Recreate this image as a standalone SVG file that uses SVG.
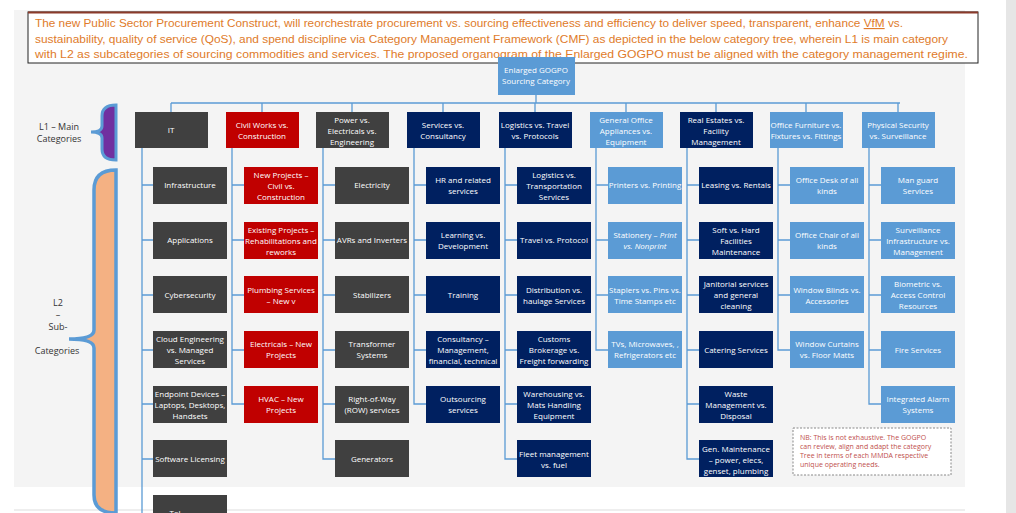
<svg xmlns="http://www.w3.org/2000/svg" width="1016" height="513" viewBox="0 0 1016 513">
<style>
text{font-family:"Open Sans","Noto Sans",sans-serif;font-size:8px;text-anchor:middle;fill:#fff}
.g rect{fill:#404040}.r rect{fill:#c00000}.n rect{fill:#002060}.l rect{fill:#5b9bd5}
.c{fill:none;stroke:#5b9bd5;stroke-width:1.3}
.hd{font-family:"Liberation Sans",sans-serif;font-size:11.5px;fill:#e07b2a;text-anchor:start}
.lb{fill:#333;font-size:9px}
</style>
<rect width="1016" height="513" fill="#fff"/>
<rect x="14" y="10" width="951" height="477" fill="#f4f4f4"/>
<rect x="1006" y="0" width="10" height="513" fill="#e6e6e6"/>
<line x1="14" y1="510" x2="965" y2="510" stroke="#ddd"/>
<rect x="28" y="12" width="950" height="51" fill="#fff" stroke="#222" stroke-width="1"/>
<line x1="28" y1="12.5" x2="978" y2="12.5" stroke="#8b3a2a" stroke-width="2"/>
<text class="hd" x="35" y="27" textLength="868" lengthAdjust="spacingAndGlyphs">The new Public Sector Procurement Construct, will reorchestrate procurement vs. sourcing effectiveness and efficiency to deliver speed, transparent, enhance <tspan text-decoration="underline">VfM</tspan> vs.</text>
<text class="hd" x="35" y="43" textLength="913" lengthAdjust="spacingAndGlyphs">sustainability, quality of service (QoS), and spend discipline via Category Management Framework (CMF) as depicted in the below  category tree, wherein L1 is main  category</text>
<text class="hd" x="35" y="58" textLength="933" lengthAdjust="spacingAndGlyphs">with L2 as subcategories of sourcing commodities and services. The proposed organogram of the Enlarged GOGPO must be aligned with the category management regime.</text>

<g id="braces">
<path d="M116,105 Q102,105 102,116 L102,126 Q102,132 91,132 Q102,132 102,138 L102,149 Q102,160 116,160 Z" fill="#7030a0" stroke="#5b9bd5" stroke-width="3"/>
<path d="M116,170 Q94,170 94,190 L94,330 Q94,339 69,339 Q94,339 94,348 L94,495 Q94,513 116,513 Z" fill="#f4b183" stroke="#5b9bd5" stroke-width="3.5"/>
<text class="lb" x="59" y="130">L1 – Main</text><text class="lb" x="59" y="142">Categories</text>
<text class="lb" x="58" y="306">L2</text><text class="lb" x="58" y="318">–</text><text class="lb" x="58" y="330">Sub-</text><text class="lb" x="57" y="354">Categories</text>
</g>

<g id="connectors" class="c">
<path d="M536,95 V103 M171,103 H900 M171,103 V112 M262,103 V112 M352,103 V112 M443,103 V112 M535,103 V112 M626,103 V112 M716,103 V112 M806,103 V112 M898,103 V112"/>
<path d="M142,148 V513 M142,185 H153 M142,240 H153 M142,295 H153 M142,350 H153 M142,404 H153 M142,459 H153"/>
<path d="M232,148 V404 H244 M232,185 H244 M232,240 H244 M232,295 H244 M232,350 H244"/>
<path d="M323,148 V459 H335 M323,185 H335 M323,240 H335 M323,295 H335 M323,350 H335 M323,404 H335"/>
<path d="M414,148 V404 H426 M414,185 H426 M414,240 H426 M414,295 H426 M414,350 H426"/>
<path d="M505,148 V459 H517 M505,185 H517 M505,240 H517 M505,295 H517 M505,350 H517 M505,404 H517"/>
<path d="M596,148 V350 H608 M596,185 H608 M596,240 H608 M596,295 H608"/>
<path d="M687,148 V459 H699 M687,185 H699 M687,240 H699 M687,295 H699 M687,350 H699 M687,404 H699"/>
<path d="M778,148 V350 H790 M778,185 H790 M778,240 H790 M778,295 H790"/>
<path d="M869,148 V404 H881 M869,185 H881 M869,240 H881 M869,295 H881 M869,350 H881"/>
</g>

<g id="root" class="l"><rect x="498" y="57" width="77" height="38"/><text x="536" y="73">Enlarged GOGPO</text><text x="536" y="84">Sourcing Category</text></g>

<g id="l1-it" class="g"><rect x="135" y="112" width="73" height="36"/><text x="171" y="133">IT</text></g>
<g id="l1-civil" class="r"><rect x="226" y="112" width="73" height="36"/><text x="262" y="128">Civil Works vs.</text><text x="262" y="139">Construction</text></g>
<g id="l1-power" class="g"><rect x="316" y="112" width="73" height="36"/><text x="352" y="123">Power vs.</text><text x="352" y="134">Electricals vs.</text><text x="352" y="145">Engineering</text></g>
<g id="l1-services" class="n"><rect x="407" y="112" width="73" height="36"/><text x="443" y="128">Services vs.</text><text x="443" y="139">Consultancy</text></g>
<g id="l1-logistics" class="n"><rect x="499" y="112" width="73" height="36"/><text x="535" y="128">Logistics vs. Travel</text><text x="535" y="139">vs. Protocols</text></g>
<g id="l1-office" class="l"><rect x="590" y="112" width="73" height="36"/><text x="626" y="123">General Office</text><text x="626" y="134">Appliances vs.</text><text x="626" y="145">Equipment</text></g>
<g id="l1-realestate" class="n"><rect x="680" y="112" width="73" height="36"/><text x="716" y="123">Real Estates vs.</text><text x="716" y="134">Facility</text><text x="716" y="145">Management</text></g>
<g id="l1-furniture" class="l"><rect x="770" y="112" width="73" height="36"/><text x="806" y="128">Office Furniture vs.</text><text x="806" y="139">Fixtures vs. Fittings</text></g>
<g id="l1-security" class="l"><rect x="862" y="112" width="73" height="36"/><text x="898" y="128">Physical Security</text><text x="898" y="139">vs. Surveillance</text></g>

<!-- IT -->
<g id="it1" class="g"><rect x="153" y="167" width="74" height="37"/><text x="190" y="188">Infrastructure</text></g>
<g id="it2" class="g"><rect x="153" y="222" width="74" height="37"/><text x="190" y="243">Applications</text></g>
<g id="it3" class="g"><rect x="153" y="276" width="74" height="37"/><text x="190" y="298">Cybersecurity</text></g>
<g id="it4" class="g"><rect x="153" y="331" width="74" height="37"/><text x="190" y="342">Cloud Engineering</text><text x="190" y="353">vs. Managed</text><text x="190" y="364">Services</text></g>
<g id="it5" class="g"><rect x="153" y="386" width="74" height="37"/><text x="190" y="397">Endpoint Devices –</text><text x="190" y="408">Laptops, Desktops,</text><text x="190" y="419">Handsets</text></g>
<g id="it6" class="g"><rect x="153" y="440" width="74" height="37"/><text x="190" y="462">Software Licensing</text></g>
<g id="it7" class="g"><rect x="153" y="495" width="74" height="37"/><text x="175" y="516">Tel</text></g>
<!-- Civil -->
<g id="cv1" class="r"><rect x="244" y="167" width="74" height="37"/><text x="281" y="178">New Projects –</text><text x="281" y="189">Civil vs.</text><text x="281" y="200">Construction</text></g>
<g id="cv2" class="r"><rect x="244" y="222" width="74" height="37"/><text x="281" y="233">Existing Projects –</text><text x="281" y="244">Rehabilitations and</text><text x="281" y="255">reworks</text></g>
<g id="cv3" class="r"><rect x="244" y="276" width="74" height="37"/><text x="281" y="293">Plumbing Services</text><text x="281" y="304">– New v</text></g>
<g id="cv4" class="r"><rect x="244" y="331" width="74" height="37"/><text x="281" y="347">Electricals – New</text><text x="281" y="358">Projects</text></g>
<g id="cv5" class="r"><rect x="244" y="386" width="74" height="37"/><text x="281" y="402">HVAC – New</text><text x="281" y="413">Projects</text></g>
<!-- Power -->
<g id="pw1" class="g"><rect x="335" y="167" width="74" height="37"/><text x="372" y="188">Electricity</text></g>
<g id="pw2" class="g"><rect x="335" y="222" width="74" height="37"/><text x="372" y="243">AVRs and Inverters</text></g>
<g id="pw3" class="g"><rect x="335" y="276" width="74" height="37"/><text x="372" y="298">Stabilizers</text></g>
<g id="pw4" class="g"><rect x="335" y="331" width="74" height="37"/><text x="372" y="347">Transformer</text><text x="372" y="358">Systems</text></g>
<g id="pw5" class="g"><rect x="335" y="386" width="74" height="37"/><text x="372" y="402">Right-of-Way</text><text x="372" y="413">(ROW) services</text></g>
<g id="pw6" class="g"><rect x="335" y="440" width="74" height="37"/><text x="372" y="462">Generators</text></g>
<!-- Services -->
<g id="sv1" class="n"><rect x="426" y="167" width="74" height="37"/><text x="463" y="183">HR and related</text><text x="463" y="194">services</text></g>
<g id="sv2" class="n"><rect x="426" y="222" width="74" height="37"/><text x="463" y="238">Learning vs.</text><text x="463" y="249">Development</text></g>
<g id="sv3" class="n"><rect x="426" y="276" width="74" height="37"/><text x="463" y="298">Training</text></g>
<g id="sv4" class="n"><rect x="426" y="331" width="74" height="37"/><text x="463" y="342">Consultancy –</text><text x="463" y="353">Management,</text><text x="463" y="364">financial, technical</text></g>
<g id="sv5" class="n"><rect x="426" y="386" width="74" height="37"/><text x="463" y="402">Outsourcing</text><text x="463" y="413">services</text></g>
<!-- Logistics -->
<g id="lg1" class="n"><rect x="517" y="167" width="74" height="37"/><text x="554" y="178">Logistics vs.</text><text x="554" y="189">Transportation</text><text x="554" y="200">Services</text></g>
<g id="lg2" class="n"><rect x="517" y="222" width="74" height="37"/><text x="554" y="243">Travel vs. Protocol</text></g>
<g id="lg3" class="n"><rect x="517" y="276" width="74" height="37"/><text x="554" y="293">Distribution vs.</text><text x="554" y="304">haulage Services</text></g>
<g id="lg4" class="n"><rect x="517" y="331" width="74" height="37"/><text x="554" y="342">Customs</text><text x="554" y="353">Brokerage vs.</text><text x="554" y="364">Freight forwarding</text></g>
<g id="lg5" class="n"><rect x="517" y="386" width="74" height="37"/><text x="554" y="397">Warehousing vs.</text><text x="554" y="408">Mats Handling</text><text x="554" y="419">Equipment</text></g>
<g id="lg6" class="n"><rect x="517" y="440" width="74" height="37"/><text x="554" y="457">Fleet management</text><text x="554" y="468">vs. fuel</text></g>
<!-- Office -->
<g id="of1" class="l"><rect x="608" y="167" width="74" height="37"/><text x="645" y="188">Printers vs. Printing</text></g>
<g id="of2" class="l"><rect x="608" y="222" width="74" height="37"/><text x="645" y="238">Stationery – <tspan font-style="italic">Print</tspan></text><text x="645" y="249" font-style="italic">vs. Nonprint</text></g>
<g id="of3" class="l"><rect x="608" y="276" width="74" height="37"/><text x="645" y="293">Staplers vs. Pins vs.</text><text x="645" y="304">Time Stamps etc</text></g>
<g id="of4" class="l"><rect x="608" y="331" width="74" height="37"/><text x="645" y="347">TVs, Microwaves, ,</text><text x="645" y="358">Refrigerators etc</text></g>
<!-- Real estate -->
<g id="re1" class="n"><rect x="699" y="167" width="74" height="37"/><text x="736" y="188">Leasing vs. Rentals</text></g>
<g id="re2" class="n"><rect x="699" y="222" width="74" height="37"/><text x="736" y="233">Soft vs. Hard</text><text x="736" y="244">Facilities</text><text x="736" y="255">Maintenance</text></g>
<g id="re3" class="n"><rect x="699" y="276" width="74" height="37"/><text x="736" y="287">Janitorial services</text><text x="736" y="298">and general</text><text x="736" y="309">cleaning</text></g>
<g id="re4" class="n"><rect x="699" y="331" width="74" height="37"/><text x="736" y="353">Catering Services</text></g>
<g id="re5" class="n"><rect x="699" y="386" width="74" height="37"/><text x="736" y="397">Waste</text><text x="736" y="408">Management vs.</text><text x="736" y="419">Disposal</text></g>
<g id="re6" class="n"><rect x="699" y="440" width="74" height="37"/><text x="736" y="452">Gen. Maintenance</text><text x="736" y="463">– power, elecs,</text><text x="736" y="474">genset,  plumbing</text></g>
<!-- Furniture -->
<g id="fu1" class="l"><rect x="790" y="167" width="74" height="37"/><text x="827" y="183">Office Desk of all</text><text x="827" y="194">kinds</text></g>
<g id="fu2" class="l"><rect x="790" y="222" width="74" height="37"/><text x="827" y="238">Office Chair of all</text><text x="827" y="249">kinds</text></g>
<g id="fu3" class="l"><rect x="790" y="276" width="74" height="37"/><text x="827" y="293">Window Blinds vs.</text><text x="827" y="304">Accessories</text></g>
<g id="fu4" class="l"><rect x="790" y="331" width="74" height="37"/><text x="827" y="347">Window Curtains</text><text x="827" y="358">vs. Floor Matts</text></g>
<!-- Security -->
<g id="se1" class="l"><rect x="881" y="167" width="74" height="37"/><text x="918" y="183">Man guard</text><text x="918" y="194">Services</text></g>
<g id="se2" class="l"><rect x="881" y="222" width="74" height="37"/><text x="918" y="233">Surveillance</text><text x="918" y="244">Infrastructure vs.</text><text x="918" y="255">Management</text></g>
<g id="se3" class="l"><rect x="881" y="276" width="74" height="37"/><text x="918" y="287">Biometric vs.</text><text x="918" y="298">Access Control</text><text x="918" y="309">Resources</text></g>
<g id="se4" class="l"><rect x="881" y="331" width="74" height="37"/><text x="918" y="353">Fire Services</text></g>
<g id="se5" class="l"><rect x="881" y="386" width="74" height="37"/><text x="918" y="402">Integrated Alarm</text><text x="918" y="413">Systems</text></g>

<g id="note">
<rect x="793" y="428" width="158" height="47" fill="#fff" stroke="#888" stroke-dasharray="2,1.5"/>
<text x="800" y="440" style="fill:#c0504d;font-size:7px;text-anchor:start">NB: This is not exhaustive. The GOGPO</text>
<text x="800" y="449" style="fill:#c0504d;font-size:7px;text-anchor:start">can review, align and adapt the category</text>
<text x="800" y="458" style="fill:#c0504d;font-size:7px;text-anchor:start">Tree in terms of each MMDA respective</text>
<text x="800" y="467" style="fill:#c0504d;font-size:7px;text-anchor:start">unique operating needs.</text>
</g>
</svg>
